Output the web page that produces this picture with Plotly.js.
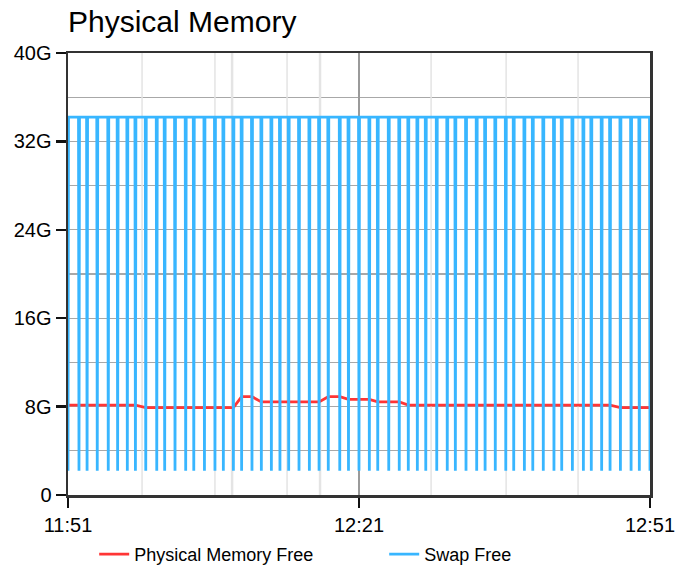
<!DOCTYPE html>
<html>
<head>
<meta charset="utf-8">
<script src="https://cdn.plot.ly/plotly-3.0.1.min.js"></script>
<style>html,body{margin:0;padding:0;background:#fff;}#chart{width:676px;height:572px;}</style>
</head>
<body>
<div id="chart"></div>
<script>
// Sample times (HH:MM:SS) of the per-minute samples
var sampleTimes = ["11:51:00","11:52:08","11:52:58","11:54:01","11:55:09","11:56:07","11:57:07","11:57:57","11:59:01","12:00:09",
  "12:00:58","12:02:02","12:03:08","12:03:58","12:05:04","12:06:09","12:07:01","12:08:03","12:08:54","12:09:58",
  "12:10:56","12:11:58","12:12:51","12:13:45","12:14:49","12:15:53","12:16:53","12:17:50","12:19:01","12:19:55",
  "12:21:00","12:22:04","12:22:56","12:24:04","12:25:09","12:26:05","12:27:01","12:27:53","12:29:01","12:30:06",
  "12:30:56","12:32:02","12:33:08","12:34:00","12:35:03","12:36:08","12:36:57","12:38:03","12:38:55","12:40:00",
  "12:41:06","12:41:54","12:43:00","12:44:08","12:44:57","12:46:01","12:46:53","12:47:57","12:49:03","12:49:54","12:51:00"];
// Physical Memory Free (GB) at each sample
var memFree = [8.14,8.14,8.14,8.14,8.14,8.14,8.14,8.14,7.91,7.91,
  7.91,7.91,7.91,7.91,7.91,7.91,7.91,7.91,8.9,8.9,
  8.43,8.43,8.43,8.43,8.43,8.43,8.43,8.9,8.9,8.66,
  8.66,8.66,8.43,8.43,8.43,8.14,8.14,8.14,8.14,8.14,
  8.14,8.14,8.14,8.14,8.14,8.14,8.14,8.14,8.14,8.14,
  8.14,8.14,8.14,8.14,8.14,8.14,8.14,7.91,7.91,7.91,7.91];
// Swap Free (GB): normal level and the dip reached at each sample
var swapHigh = 34.2;
var swapLow = 2.2;
// Deprecation markers (times)
var deprecTimes = ["11:58:38","12:06:09","12:07:52","12:07:58","12:13:35","12:16:56","12:17:02","12:28:26","12:36:10","12:43:35"];
var yTickVals = [0, 8, 16, 24, 32, 40];
var yTickText = ["0", "8G", "16G", "24G", "32G", "40G"];
var xTickLabels = ["11:51", "12:21", "12:51"];

function toMs(s) {
  var p = s.split(":").map(Number);
  return Date.UTC(2024, 0, 1, p[0], p[1], p[2] || 0);
}
var sampleMs = sampleTimes.map(toMs);

// Swap: a quick dip to swapLow at every sample
var swapX = [], swapY = [];
sampleMs.forEach(function (t) {
  swapX.push(t - 3000, t, t + 3000);
  swapY.push(swapHigh, swapLow, swapHigh);
});

// Deprecation: vertical lines across the full range
var depX = [], depY = [];
deprecTimes.forEach(function (s) {
  var t = toMs(s);
  depX.push(t, t, null);
  depY.push(0, 40, null);
});

var traces = [
  {x: depX, y: depY, type: "scatter", mode: "lines", name: "Deprecation",
   line: {color: "#e4e4e4", width: 1.5}, legendrank: 3, hoverinfo: "skip"},
  {x: sampleMs, y: memFree, type: "scatter", mode: "lines", name: "Physical Memory Free",
   line: {color: "#ff3535", width: 2.8}, legendrank: 1},
  {x: swapX, y: swapY, type: "scatter", mode: "lines", name: "Swap Free",
   line: {color: "#38b6ff", width: 2.8}, legendrank: 2}
];

var xTickVals = xTickLabels.map(toMs);

var layout = {
  width: 676, height: 572,
  margin: {l: 68, r: 26, t: 53, b: 77, pad: 0, autoexpand: false},
  paper_bgcolor: "#fff", plot_bgcolor: "#fff",
  font: {family: "Liberation Sans, Arial, sans-serif", color: "#000", size: 17},
  title: {text: "Physical Memory", x: 0, xref: "paper", xanchor: "left",
          y: 0.962, yref: "container", yanchor: "middle",
          font: {size: 30, color: "#000"}},
  showlegend: true,
  legend: {orientation: "h", x: 0.045, xanchor: "left", xref: "paper",
           y: 1 - 536 / 572, yanchor: "top", yref: "container",
           entrywidth: 245, entrywidthmode: "pixels", font: {size: 18},
           traceorder: "normal", bgcolor: "rgba(0,0,0,0)", tracegroupgap: 0},
  xaxis: {type: "date", range: [toMs("11:51:00"), toMs("12:51:00")],
          tickvals: xTickVals, ticktext: xTickLabels,
          showgrid: true, gridcolor: "#9a9a9a", gridwidth: 1.5,
          showline: true, linecolor: "#333", linewidth: 2.5, mirror: true,
          ticks: "outside", ticklen: 10, tickwidth: 2.5, tickcolor: "#111",
          tickfont: {size: 20}, zeroline: false, fixedrange: true, automargin: false},
  yaxis: {range: [0, 40], tickvals: yTickVals, ticktext: yTickText,
          showgrid: true, gridcolor: "#a8a8a8", gridwidth: 1.2,
          minor: {dtick: 4, tick0: 0, showgrid: true, gridcolor: "#a8a8a8", gridwidth: 1.2},
          showline: true, linecolor: "#333", linewidth: 2.5, mirror: true,
          ticks: "outside", ticklen: 10, tickwidth: 2.5, tickcolor: "#111",
          tickfont: {size: 20}, zeroline: false, fixedrange: true, automargin: false}
};

Plotly.newPlot("chart", traces, layout, {displayModeBar: false, staticPlot: true});
</script>
</body>
</html>
